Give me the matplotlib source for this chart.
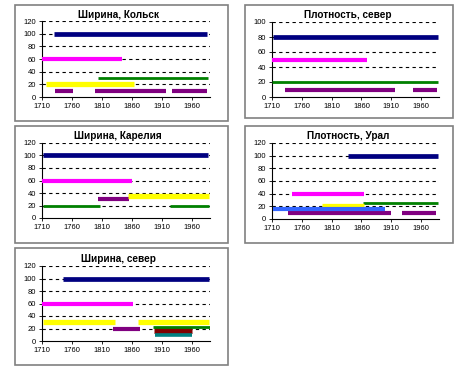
import matplotlib
matplotlib.use("Agg")
import matplotlib.pyplot as plt
from matplotlib.patches import Rectangle

plt.rcParams['font.family'] = ['Liberation Sans', 'DejaVu Sans']

years = [1710, 1760, 1810, 1860, 1910, 1960]

# each panel: segment start, end, level and series key
kolsk_title = 'Ширина, Кольск'
kolsk_start = [1730, 1710, 1803, 1717, 1732, 1798, 1927]
kolsk_end = [1985, 1843, 1987, 1863, 1762, 1917, 1985]
kolsk_level = [100, 60, 30, 20, 10, 10, 10]
kolsk_series = ['navy', 'pink', 'green', 'yellow', 'purple', 'purple', 'purple']

sever_d_title = 'Плотность, север'
sever_d_start = [1711, 1710, 1710, 1732, 1946]
sever_d_end = [1988, 1870, 1988, 1916, 1987]
sever_d_level = [80, 50, 20, 10, 10]
sever_d_series = ['navy', 'pink', 'green', 'purple', 'purple']

karel_title = 'Ширина, Карелия'
karel_start = [1712, 1710, 1803, 1853, 1712, 1923]
karel_end = [1987, 1860, 1855, 1988, 1807, 1988]
karel_level = [100, 60, 30, 35, 20, 20]
karel_series = ['navy', 'pink', 'purple', 'yellow', 'green', 'green']

ural_title = 'Плотность, Урал'
ural_start = [1838, 1744, 1862, 1794, 1737, 1928, 1712]
ural_end = [1988, 1864, 1988, 1864, 1909, 1985, 1899]
ural_level = [100, 40, 25, 20, 9, 10, 15]
ural_series = ['navy', 'pink', 'green', 'yellow', 'purple', 'purple', 'blue']

sever_w_title = 'Ширина, север'
sever_w_start = [1745, 1710, 1712, 1870, 1828, 1897, 1898, 1895]
sever_w_end = [1988, 1862, 1832, 1988, 1873, 1960, 1960, 1990]
sever_w_level = [100, 60, 30, 30, 20, 17, 10, 22]
sever_w_series = ['navy', 'pink', 'yellow', 'yellow', 'purple', 'maroon', 'teal', 'green']

styles = {
    'navy': ('#000080', 3.4),
    'pink': ('#FF00FF', 3.0),
    'green': ('#008000', 2.0),
    'yellow': ('#FFFF00', 3.8),
    'purple': ('#800080', 3.0),
    'blue': ('#3366FF', 3.0),
    'maroon': ('#800000', 5.0),
    'teal': ('#008080', 2.6),
}

W, H = 455, 370
fig = plt.figure(figsize=(W / 100, H / 100), dpi=100)

def box(x0, y0, x1, y1):
    fig.patches.append(Rectangle((x0 / W, 1 - y1 / H), (x1 - x0) / W, (y1 - y0) / H,
                                 transform=fig.transFigure, fill=False,
                                 edgecolor='#808080', lw=1.2))

def panel(rect, title, tx, ty, start, end, level, series, ymax):
    l, t, r, b = rect
    ax = fig.add_axes([l / W, 1 - b / H, (r - l) / W, (b - t) / H])
    for s, e, y, k in zip(start, end, level, series):
        c, lw = styles[k]
        ax.plot([s, e], [y, y], color=c, lw=lw, solid_capstyle='butt', zorder=3)
    ax.set_xlim(1710, 1990)
    ax.set_ylim(0, ymax)
    ax.set_xticks(years)
    ax.set_yticks(range(0, ymax + 1, 20))
    for g in range(20, ymax + 1, 20):
        ax.axhline(g, color='black', lw=0.8, ls=(0, (3, 3)), zorder=1)
    ax.spines['top'].set_visible(False)
    ax.spines['right'].set_visible(False)
    for sp in ('left', 'bottom'):
        ax.spines[sp].set_linewidth(0.8)
    ax.tick_params(labelsize=5.5, length=2, width=0.6, pad=2.5)
    fig.text(tx / W, 1 - ty / H, title, ha='center', va='center',
             fontsize=7.2, fontweight='bold')
    return ax

box(15, 5, 228, 121)
box(245, 5, 453, 118)
box(15, 126, 228, 243)
box(245, 126, 453, 243)
box(15, 248, 228, 365)

panel((42, 21, 210, 97), kolsk_title, 118, 15,
      kolsk_start, kolsk_end, kolsk_level, kolsk_series, 120)
panel((272, 22, 439, 97), sever_d_title, 348, 15,
      sever_d_start, sever_d_end, sever_d_level, sever_d_series, 100)
panel((42, 143, 210, 218), karel_title, 118, 136,
      karel_start, karel_end, karel_level, karel_series, 120)
panel((272, 143, 439, 219), ural_title, 348, 136,
      ural_start, ural_end, ural_level, ural_series, 120)
panel((42, 266, 210, 341), sever_w_title, 118, 259,
      sever_w_start, sever_w_end, sever_w_level, sever_w_series, 120)

fig.savefig('out.png', dpi=100)
